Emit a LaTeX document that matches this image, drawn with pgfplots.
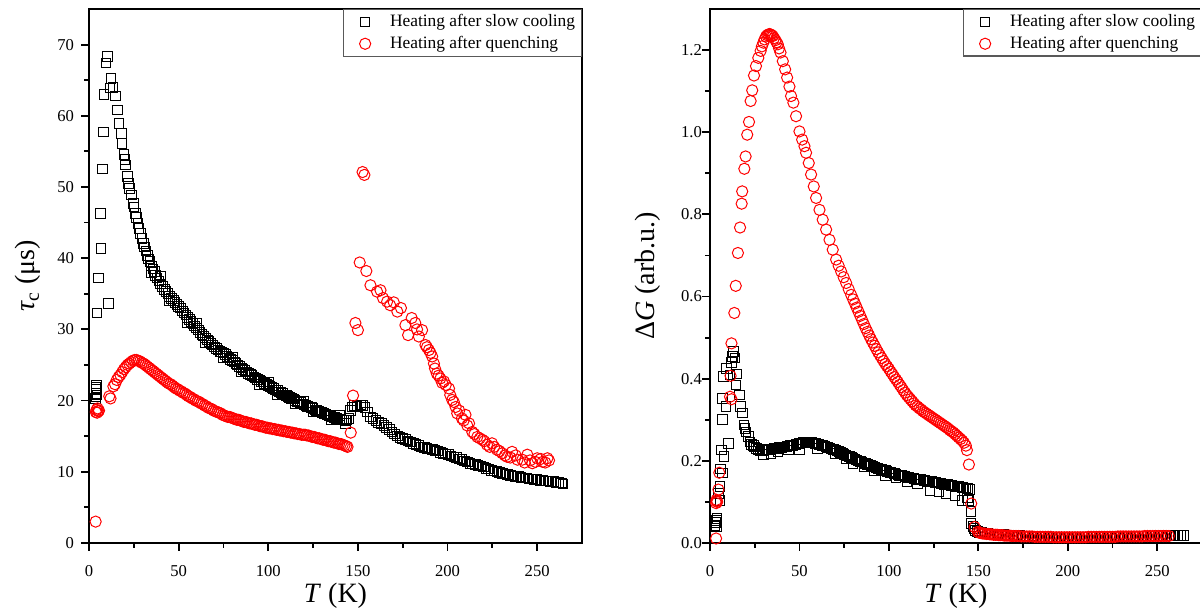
\documentclass[border=0pt]{standalone}
\usepackage{fontspec}
\setmainfont{Liberation Serif}
\usepackage{pgfplots}
\usepackage{pgfplotstable}
\pgfplotsset{compat=1.18}

% ---------- left panel: tau_c, heating after slow cooling ----------
\pgfplotstableread{
T tau
3.5 20.3
3.8 21.0
4.0 21.6
4.2 22.1
4.5 20.8
4.0 20.5
3.9 21.8
4.5 32.3
5.4 37.2
6.5 46.3
6.7 41.4
7.4 52.5
8.0 57.7
8.4 63.0
9.5 67.4
10.2 68.3
10.8 33.6
11.7 63.9
12.3 65.2
13.4 64.0
14.7 62.8
15.8 60.8
16.8 58.9
18.0 57.5
18.4 56.1
19.6 54.6
20.1 53.9
20.3 53.1
21.4 51.5
22.0 50.5
22.6 49.8
23.8 48.9
24.7 47.7
25.0 47.2
25.8 46.3
26.6 45.7
27.3 44.9
28.0 44.2
28.8 43.5
29.5 42.8
30.3 42.1
31.0 41.6
31.8 41.0
32.5 40.4
33.3 39.9
34.0 39.5
34.8 38.9
35.6 38.5
36.4 38.1
37.2 37.6
38.0 37.2
39.0 36.8
40.0 36.4
41.0 36.0
42.0 35.6
43.0 35.3
44.0 35.0
45.0 34.6
46.0 34.3
47.0 34.1
48.0 33.8
49.0 33.5
50.0 33.2
51.0 33.0
52.0 32.6
53.0 32.3
54.0 32.0
55.0 31.7
56.0 31.4
57.0 31.1
58.0 30.8
59.0 30.5
60.0 30.2
61.0 29.9
62.0 29.6
63.0 29.3
64.0 29.1
65.0 28.8
66.0 28.5
67.0 28.3
68.0 28.0
69.0 27.8
70.0 27.5
71.0 27.3
72.0 27.1
73.0 26.9
74.0 26.8
75 26.7
76 26.5
77 26.2
78 26.0
79 25.8
80 25.6
81 25.4
82 25.2
83 25.0
84 24.8
85 24.6
86 24.4
87 24.2
88 24.0
89 23.8
90 23.7
91 23.5
92 23.3
93 23.2
94 23.0
95 22.9
96 22.7
97 22.6
98 22.4
99 22.3
100 22.1
101 22.0
102 21.8
103 21.7
104 21.5
105 21.4
106 21.2
107 21.1
108 21.0
109 20.8
110 20.7
111 20.6
112 20.4
113 20.3
114 20.2
115 20.0
116 19.9
117 19.8
118 19.7
119 19.5
120 19.4
121 19.3
122 19.2
123 19.1
124 19.0
125 18.9
126 18.7
127 18.6
128 18.5
129 18.4
130 18.3
131 18.2
132 18.1
133 18.0
134 17.9
135 17.8
136 17.7
137 17.6
138 17.5
139 17.4
140 17.4
141 17.3
142 17.3
143 17.2
144 17.3
145 17.5
35 38.0
45 34.0
55 31.0
65 28.2
75 26.0
85 24.0
95 22.3
105 20.8
115 19.5
125 18.4
135 17.3
143 16.8
40 37.5
60 30.9
80 26.1
100 22.6
120 19.9
140 17.9
146.0 18.6
146.7 19.1
148.0 19.3
149.5 19.2
151.4 19.4
152.5 19.3
154.0 19.0
155.5 18.4
157.0 17.7
158.5 17.5
160.0 17.2
161.5 16.9
163.0 16.8
164.5 16.5
166.0 16.2
167.5 15.9
169.0 15.6
170.5 15.3
172.0 15.0
173.5 14.8
175.0 14.7
176.5 14.5
178.0 14.3
179.5 14.2
181.0 14.0
182.5 13.8
184.0 13.7
185.5 13.5
187.0 13.4
188.5 13.3
190.0 13.2
191.5 13.1
193.0 13.0
194.5 12.9
196.0 12.7
197.5 12.6
199.0 12.5
200.5 12.4
202.0 12.2
203.5 12.1
205.0 12.0
206.5 11.8
208.0 11.7
209.5 11.5
211.0 11.4
212.5 11.2
214.0 11.1
215.5 11.0
217.0 10.9
218.5 10.8
220.0 10.7
221.5 10.5
223.0 10.4
224.5 10.2
226.0 10.1
227.5 10.0
229.0 9.9
230.5 9.8
232.0 9.7
233.5 9.6
235.0 9.5
236.5 9.4
238.0 9.3
239.5 9.3
241.0 9.2
242.5 9.1
244.0 9.1
245.5 9.0
247.0 9.0
248.5 8.9
250.0 8.9
251.5 8.8
253.0 8.8
254.5 8.7
256.0 8.7
257.5 8.6
259.0 8.6
260.5 8.5
262.0 8.5
263.5 8.4
264.5 8.3
}\LeftSlow

% ---------- left panel: tau_c, heating after quenching ----------
\pgfplotstableread{
T tau
3.7 3.0
3.8 18.4
4.2 18.7
4.5 18.3
4.8 18.9
5.2 18.5
5.6 18.6
11.3 20.6
12.0 20.3
13.6 22.0
14.5 22.3
15.5 22.9
16.5 23.3
17.5 23.6
18.5 24.0
19.5 24.4
20.5 24.7
21.5 25.0
22.5 25.2
23.5 25.4
24.5 25.6
25.5 25.7
26.5 25.7
27.5 25.6
28.5 25.5
29.5 25.3
30.5 25.2
31.5 25.0
32.5 24.8
33.5 24.6
34.5 24.4
35.5 24.2
36.5 24.0
37.5 23.8
38.5 23.6
39.5 23.4
40.5 23.2
41.5 23.0
42.5 22.8
43.5 22.6
44.5 22.4
45.5 22.3
46.5 22.1
47.5 21.9
48.5 21.7
49.5 21.6
50.5 21.4
51.5 21.3
52.5 21.1
53.5 21.0
54.5 20.8
55.5 20.6
56.5 20.5
57.5 20.3
58.5 20.2
59.5 20.0
60.5 19.9
61.5 19.8
62.5 19.6
63.5 19.5
64.5 19.3
65.5 19.2
66.5 19.0
67.5 18.9
68.5 18.8
69.5 18.6
70.5 18.5
71.5 18.4
72.5 18.3
73.5 18.2
74.5 18.0
75.5 17.9
76.5 17.8
77.5 17.7
78.5 17.7
79.5 17.6
80.5 17.5
81.5 17.4
82.5 17.3
83.5 17.3
84.5 17.2
85.5 17.1
86.5 17.0
87.5 17.0
88.5 16.9
89.5 16.8
90.5 16.8
91.5 16.7
92.5 16.6
93.5 16.6
94.5 16.5
95.5 16.4
96.5 16.4
97.5 16.3
98.5 16.2
99.5 16.2
100.5 16.1
101.5 16.1
102.5 16.0
103.5 16.0
104.5 15.9
105.5 15.9
106.5 15.8
107.5 15.8
108.5 15.7
109.5 15.7
110.5 15.6
111.5 15.6
112.5 15.5
113.5 15.5
114.5 15.4
115.5 15.4
116.5 15.3
117.5 15.3
118.5 15.2
119.5 15.2
120.5 15.2
121.5 15.1
122.5 15.1
123.5 15.0
124.5 14.9
125.5 14.9
126.5 14.8
127.5 14.7
128.5 14.7
129.5 14.6
130.5 14.5
131.5 14.5
132.5 14.4
133.5 14.3
134.5 14.3
135.5 14.2
136.5 14.1
137.5 14.1
138.5 14.0
139.5 13.9
140.5 13.9
141.5 13.8
142.5 13.7
143.5 13.6
144.2 13.5
146.0 15.5
147.3 20.7
148.6 30.9
150.0 29.9
151.0 39.4
152.6 52.1
153.6 51.7
154.7 38.2
157.0 36.2
160.7 35.3
162.6 35.5
164.0 34.4
166.3 33.9
168.0 33.4
170.0 33.8
172.0 32.5
174.0 33.0
176.5 30.6
178.0 29.2
180.0 31.6
182.0 30.9
183.0 30.0
184.0 29.0
185.8 29.9
187.7 27.8
188.5 27.5
189.6 27.1
190.5 26.7
191.4 26.2
192.4 25.2
193.0 24.5
194.0 23.8
195.0 23.5
196.0 23.1
197.0 22.5
198.0 22.7
199.0 22.2
200.8 21.7
201.5 20.8
202.6 20.1
203.5 19.8
204.5 19.1
205.4 18.2
206.5 18.6
208.0 17.5
209.0 17.2
210.0 18.0
211.0 16.5
212.0 16.8
213.8 15.6
215.0 15.3
216.6 14.9
218.0 14.7
219.4 14.5
220.5 14.3
222.0 13.8
223.5 13.5
224.8 14.0
226.0 13.5
227.6 13.1
229.0 12.9
230.5 12.6
232.0 12.3
233.3 12.1
235.0 12.0
236.0 12.8
238.0 12.3
239.0 11.7
241.7 11.7
243.0 11.3
244.5 12.4
246.0 11.6
247.3 11.2
249.0 11.4
250.0 11.9
252.0 11.8
253.0 11.4
254.5 11.3
255.7 11.9
256.6 11.6
}\LeftQuench

% ---------- right panel: Delta G, heating after slow cooling ----------
\pgfplotstableread{
T G
2.8 0.043
3.2 0.050
3.7 0.055
4.0 0.060
3.5 0.040
4.6 0.120
5.6 0.104
5.6 0.137
5.9 0.180
6.5 0.226
7.0 0.170
7.8 0.210
6.9 0.352
7.0 0.300
7.5 0.405
8.9 0.332
9.3 0.425
10.2 0.242
11.2 0.409
12.0 0.440
12.7 0.454
13.0 0.466
14.0 0.450
14.5 0.385
15.0 0.411
16.4 0.360
17.2 0.332
18.3 0.316
19.0 0.287
19.5 0.278
20.1 0.270
21.4 0.259
22.3 0.246
23.2 0.240
24.2 0.238
25.0 0.234
26.0 0.230
27.0 0.227
27.9 0.224
29.0 0.225
30.0 0.225
31.0 0.226
32 0.227
33 0.226
34 0.228
35 0.229
36 0.230
37 0.230
38 0.231
39 0.232
40 0.233
41 0.234
42 0.234
43 0.235
44 0.236
45 0.237
46 0.238
47 0.239
48 0.240
49 0.241
50 0.242
51 0.243
52 0.244
53 0.244
54 0.245
55 0.245
56 0.245
57 0.244
58 0.243
59 0.242
60 0.241
61 0.240
62 0.239
63 0.237
64 0.236
65 0.234
66 0.233
67 0.231
68 0.229
69 0.228
70 0.226
71 0.224
72 0.222
73 0.220
74 0.218
75 0.216
76 0.214
77 0.212
78 0.210
79 0.208
80 0.206
81 0.204
82 0.202
83 0.200
84 0.198
85 0.197
86 0.195
87 0.193
88 0.191
89 0.190
90 0.188
91 0.186
92 0.185
93 0.183
94 0.182
95 0.180
96 0.179
97 0.177
98 0.176
99 0.174
100 0.173
101 0.172
102 0.170
103 0.169
104 0.168
105 0.166
106 0.165
107 0.164
108 0.163
109 0.162
110 0.160
111 0.159
112 0.158
113 0.158
114 0.157
115 0.156
116 0.155
117 0.154
118 0.154
119 0.153
120 0.152
121 0.151
122 0.150
123 0.150
124 0.149
125 0.148
126 0.147
127 0.146
128 0.146
129 0.145
130 0.144
131 0.143
132 0.142
133 0.142
134 0.141
135 0.140
136 0.139
137 0.138
138 0.138
139 0.137
140 0.136
141 0.135
142 0.134
143 0.134
144 0.133
145 0.130
30 0.215
34 0.218
38 0.222
44 0.226
50 0.228
60 0.230
70 0.218
76 0.206
80 0.192
86 0.186
92 0.176
98 0.165
104 0.158
110 0.150
116 0.144
123 0.128
128 0.126
132 0.120
137 0.115
141 0.104
144 0.110
144.5 0.104
145.8 0.076
145.8 0.047
147.0 0.040
147.6 0.035
148.5 0.030
149.5 0.028
150.5 0.026
152.0 0.025
153.5 0.024
155.0 0.023
156.5 0.022
158.0 0.022
159.5 0.021
161.0 0.021
162.5 0.020
164.0 0.020
165.5 0.019
167.0 0.019
168.5 0.019
170.0 0.018
171.5 0.018
173.0 0.018
174.5 0.017
176.0 0.017
177.5 0.017
179.0 0.017
180.5 0.016
182.0 0.016
183.5 0.016
185.0 0.016
186.5 0.016
188.0 0.016
189.5 0.015
191.0 0.015
192.5 0.015
194.0 0.015
195.5 0.015
197.0 0.015
198.5 0.015
200.0 0.015
201.5 0.015
203.0 0.015
204.5 0.015
206.0 0.015
207.5 0.015
209.0 0.015
210.5 0.015
212.0 0.015
213.5 0.015
215.0 0.015
216.5 0.015
218.0 0.015
219.5 0.016
221.0 0.016
222.5 0.016
224.0 0.016
225.5 0.016
227.0 0.016
228.5 0.016
230.0 0.016
231.5 0.016
233.0 0.016
234.5 0.016
236.0 0.016
237.5 0.017
239.0 0.017
240.5 0.017
242.0 0.017
243.5 0.017
245.0 0.017
246.5 0.017
248.0 0.017
249.5 0.017
251.0 0.018
252.5 0.018
254.0 0.018
255.5 0.018
257.0 0.018
258.5 0.018
260.0 0.018
261.5 0.018
263.0 0.018
264.5 0.018
}\RightSlow

% ---------- right panel: Delta G, heating after quenching ----------
\pgfplotstableread{
T G
3.4 0.011
3.4 0.097
3.7 0.102
4.0 0.100
3.6 0.105
4.7 0.130
5.2 0.171
11.2 0.356
12.0 0.350
11.5 0.407
12.0 0.486
13.6 0.560
14.4 0.626
15.6 0.706
16.8 0.768
17.7 0.826
18.0 0.856
19.2 0.911
19.9 0.941
20.8 0.994
21.8 1.025
22.7 1.076
23.6 1.102
24.6 1.138
25.7 1.161
27.0 1.181
28.3 1.198
29.0 1.209
29.8 1.218
30.5 1.226
31.3 1.233
32.0 1.236
32.6 1.238
33.3 1.239
33.9 1.238
34.5 1.236
35.1 1.234
35.8 1.229
36.6 1.224
37.2 1.219
37.9 1.214
38.6 1.204
39.4 1.194
40.7 1.173
42.0 1.153
43.1 1.133
44.4 1.111
45.3 1.088
46.6 1.072
48.1 1.039
50.0 1.002
51.5 0.982
52.8 0.966
53.7 0.950
55.2 0.925
56.5 0.897
58.0 0.868
59.3 0.840
61.2 0.811
63.0 0.787
64.9 0.763
66.8 0.738
68.6 0.714
70.5 0.690
71.9 0.675
73.3 0.661
74.7 0.647
76.1 0.633
77.5 0.618
78.9 0.604
80 0.593
81 0.583
82 0.573
83 0.563
84 0.553
85 0.543
86 0.533
87 0.523
88 0.514
89 0.505
90 0.496
91 0.488
92 0.480
93 0.472
94 0.464
95 0.457
96 0.450
97 0.443
98 0.436
99 0.430
100 0.424
101 0.417
102 0.411
103 0.404
104 0.398
105 0.392
106 0.385
107 0.379
108 0.372
109 0.366
110 0.360
111 0.355
112 0.350
113 0.345
114 0.340
115 0.335
116 0.332
117 0.328
118 0.325
119 0.321
120 0.318
121 0.315
122 0.312
123 0.309
124 0.306
125 0.303
126 0.300
127 0.297
128 0.294
129 0.291
130 0.288
131 0.285
132 0.282
133 0.279
134 0.275
135 0.272
136 0.269
137 0.265
138 0.261
139 0.257
140 0.253
141 0.249
142 0.244
143 0.237
143.6 0.226
144.7 0.191
146.0 0.096
147.9 0.039
149.7 0.027
150.5 0.025
151.5 0.024
152.5 0.023
153.5 0.023
154.5 0.022
155.5 0.022
156.5 0.021
157.5 0.021
158.5 0.020
159.5 0.020
160.5 0.020
161.5 0.019
162.5 0.019
163.5 0.019
164.5 0.018
165.5 0.018
166.5 0.018
167.5 0.018
168.5 0.017
169.5 0.017
171 0.017
172.5 0.017
174 0.016
175.5 0.016
177 0.016
178.5 0.016
180 0.016
181.5 0.015
183 0.015
184.5 0.015
186 0.015
187.5 0.015
189 0.015
190.5 0.015
192 0.014
193.5 0.014
195 0.014
196.5 0.014
198 0.014
199.5 0.014
201 0.014
202.5 0.014
204 0.014
205.5 0.014
207 0.014
208.5 0.014
210 0.014
211.5 0.015
213 0.015
214.5 0.015
216 0.015
217.5 0.015
219 0.015
220.5 0.015
222 0.015
223.5 0.015
225 0.015
226.5 0.015
228 0.016
229.5 0.016
231 0.016
232.5 0.016
234 0.016
235.5 0.016
237 0.016
238.5 0.016
240 0.016
241.5 0.016
243 0.017
244.5 0.017
246 0.017
247.5 0.017
249 0.017
250.5 0.017
252 0.017
253.5 0.017
255 0.017
256.5 0.017
}\RightQuench

\pgfplotsset{
  common/.style={
    scale only axis,
    height=267pt,
    xmin=0, xmax=275,
    xtick={0,50,...,250}, minor x tick num=1,
    tick align=outside, tick pos=left,
    major tick length=4pt, minor tick length=2.3pt,
    axis line style={line width=0.9pt},
    every tick/.style={line width=0.9pt, black},
    /pgf/number format/assume math mode=true,
    tick label style={font=\fontsize{8.3}{10}\selectfont},
    xticklabel style={yshift=-3.5pt},
    label style={font=\fontsize{14}{16}\selectfont},
    xlabel={\textit{T} (K)},
    xlabel style={at={(axis description cs:0.5,-0.112)}, anchor=base},
    legend style={at={(1,1)}, anchor=north east, draw=black!65, line width=0.7pt,
      font=\fontsize{8.7}{10}\selectfont, inner xsep=1.5pt, inner ysep=0.8pt,
      nodes={inner sep=1.6pt}},
    legend cell align=left,
  },
  limg/.style={legend image code/.code={%
      \path (-2pt,0pt) (17.4pt,0pt);
      \draw[##1] plot coordinates {(6.9pt,0pt)};}},
  slow/.style={only marks, mark=square, mark size=2.4pt, black, mark options={line width=0.5pt}, limg},
  quench/.style={only marks, mark=o, mark size=2.8pt, red, mark options={line width=0.5pt}, limg},
}

\begin{document}
\begin{tikzpicture}
\useasboundingbox (0,0) rectangle (600pt,306.5pt);

\begin{axis}[common,
  at={(44.5pt,35pt)}, anchor=south west, width=246.5pt,
  ymin=0, ymax=75, ytick={0,10,...,70}, minor y tick num=1,
  ylabel={{\itshape τ}\textsubscript{c} (μs)},
  ylabel style={at={(axis description cs:-0.124,0.5)}, anchor=center},
]
\addplot[slow] table[x=T, y=tau] {\LeftSlow};
\addlegendentry{Heating after slow cooling}
\addplot[quench] table[x=T, y=tau] {\LeftQuench};
\addlegendentry{Heating after quenching}
\end{axis}

\begin{axis}[common,
  at={(355pt,35pt)}, anchor=south west, width=246pt,
  ymin=0, ymax=1.3, ytick={0,0.2,...,1.21}, minor y tick num=1,
  yticklabel style={xshift=3.5pt, /pgf/number format/fixed, /pgf/number format/fixed zerofill, /pgf/number format/precision=1},
  ylabel={Δ\textit{G} (arb.u.)},
  ylabel style={at={(axis description cs:-0.126,0.5)}, anchor=center},
]
\addplot[slow] table[x=T, y=G] {\RightSlow};
\addlegendentry{Heating after slow cooling}
\addplot[quench] table[x=T, y=G] {\RightQuench};
\addlegendentry{Heating after quenching}
\end{axis}
\end{tikzpicture}
\end{document}
